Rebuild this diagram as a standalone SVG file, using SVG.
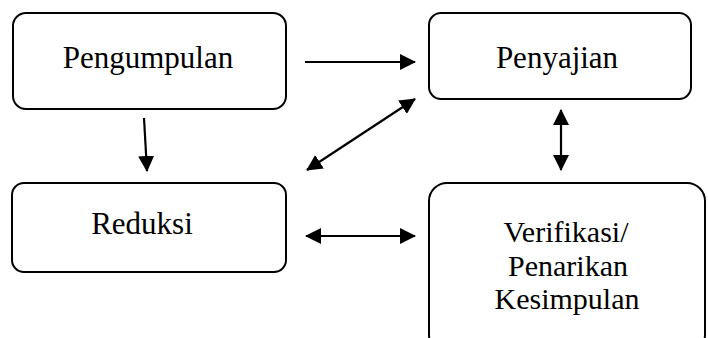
<svg xmlns="http://www.w3.org/2000/svg" width="708" height="338" viewBox="0 0 708 338">
<style>
.box{fill:#fff;stroke:#000;stroke-width:2}
.t{font-family:"Liberation Serif","Times New Roman",serif;font-size:31px;fill:#000;text-anchor:middle}
.s{font-size:30px}
.c{stroke:#000;stroke-width:2.2;fill:none}
</style>
<defs>
<marker id="ah" viewBox="0 0 16 16" refX="15" refY="8" markerWidth="16" markerHeight="16" markerUnits="userSpaceOnUse" orient="auto-start-reverse">
<path d="M0,0 L16,8 L0,16 Z" fill="#000"/>
</marker>
</defs>
<rect width="708" height="338" fill="#fff"/>
<g id="pengumpulan">
<rect class="box" x="13" y="13" width="273" height="96" rx="13"/>
<text class="t" x="148" y="68">Pengumpulan</text>
</g>
<g id="penyajian">
<rect class="box" x="429" y="13" width="262" height="86" rx="12"/>
<text class="t" x="557" y="68">Penyajian</text>
</g>
<g id="reduksi">
<rect class="box" x="12" y="183" width="274" height="89" rx="12"/>
<text class="t" x="142" y="234">Reduksi</text>
</g>
<g id="verifikasi">
<rect class="box" x="429" y="183" width="276" height="170" rx="18"/>
<text class="t s" x="566" y="242">Verifikasi/</text>
<text class="t s" x="568" y="275.5">Penarikan</text>
<text class="t s" x="567" y="309">Kesimpulan</text>
</g>
<g id="connectors">
<line class="c" x1="305" y1="62" x2="415" y2="62" marker-end="url(#ah)"/>
<line class="c" x1="144" y1="118" x2="147" y2="171" marker-end="url(#ah)"/>
<line class="c" x1="307" y1="170" x2="415" y2="99" marker-start="url(#ah)" marker-end="url(#ah)"/>
<line class="c" x1="561" y1="110" x2="561" y2="170" marker-start="url(#ah)" marker-end="url(#ah)"/>
<line class="c" x1="306" y1="236" x2="415" y2="236" marker-start="url(#ah)" marker-end="url(#ah)"/>
</g>
</svg>
